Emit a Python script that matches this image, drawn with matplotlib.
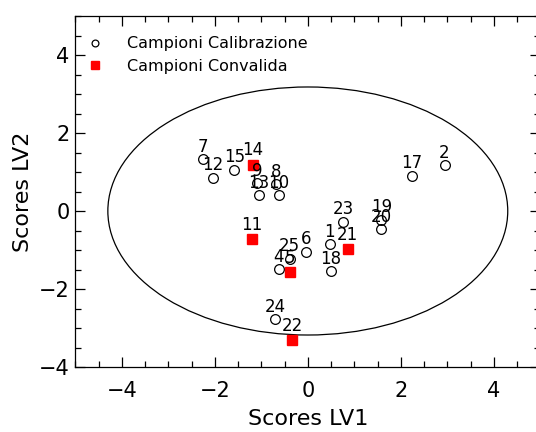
import matplotlib
matplotlib.use("Agg")
import matplotlib.pyplot as plt
from matplotlib.patches import Ellipse
from matplotlib.ticker import MultipleLocator

# scores of calibration samples (LV1, LV2)
cal_ids = [1, 2, 4, 6, 7, 8, 9, 10, 12, 13, 15, 17, 18, 19, 20, 23, 24, 25]
cal_lv1 = [0.47, 2.94, -0.63, -0.04, -2.26, -0.68, -1.09, -0.63, -2.04, -1.06,
           -1.58, 2.24, 0.50, 1.58, 1.58, 0.76, -0.70, -0.39]
cal_lv2 = [-0.85, 1.18, -1.49, -1.05, 1.33, 0.68, 0.71, 0.40, 0.85, 0.41,
           1.06, 0.91, -1.54, -0.23, -0.47, -0.27, -2.77, -1.23]

# scores of validation samples
val_ids = [5, 11, 14, 21, 22]
val_lv1 = [-0.39, -1.20, -1.18, 0.86, -0.34]
val_lv2 = [-1.57, -0.73, 1.18, -0.98, -3.31]

# confidence ellipse half-axes
ell_a = 4.3
ell_b = 3.18

fig = plt.figure(figsize=(5.36, 4.32), dpi=100)
ax = fig.add_axes([75.3 / 536, 65 / 432, 465 / 536, 351 / 432])

ax.add_patch(Ellipse((0, 0), 2 * ell_a, 2 * ell_b, fill=False, ec='black', lw=0.9))

ax.plot(cal_lv1, cal_lv2, 'o', ms=7, mfc='none', mec='black', mew=0.9,
        ls='none', label='Campioni Calibrazione')
ax.plot(val_lv1, val_lv2, 's', ms=7.5, mfc='red', mec='red', ls='none',
        label='Campioni Convalida')

for i, x, y in zip(cal_ids, cal_lv1, cal_lv2):
    ax.annotate(str(i), (x, y), xytext=(0, 2.5), textcoords='offset points',
                ha='center', va='bottom', fontsize=12)
for i, x, y in zip(val_ids, val_lv1, val_lv2):
    ax.annotate(str(i), (x, y), xytext=(0, 4), textcoords='offset points',
                ha='center', va='bottom', fontsize=12)

ax.set_xlim(-5, 5)
ax.set_ylim(-4, 5)
ax.xaxis.set_major_locator(MultipleLocator(2))
ax.xaxis.set_minor_locator(MultipleLocator(0.5))
ax.yaxis.set_major_locator(MultipleLocator(2))
ax.yaxis.set_minor_locator(MultipleLocator(0.5))
ax.tick_params(which='both', direction='in', top=True, right=True, width=0.9)
ax.tick_params(which='major', length=7.5, labelsize=15)
ax.tick_params(axis='x', which='major', pad=10)
ax.tick_params(axis='y', which='major', pad=4)
ax.tick_params(which='minor', length=4)
for s in ax.spines.values():
    s.set_linewidth(0.9)

ax.set_xlabel('Scores LV1', fontsize=16, labelpad=6)
ax.set_ylabel('Scores LV2', fontsize=16, labelpad=4)

ax.legend(loc='upper left', bbox_to_anchor=(-0.01, 0.983), frameon=False,
          fontsize=11.5, markerscale=0.7, handlelength=1.2, handletextpad=1.4,
          labelspacing=0.45, borderaxespad=0.5)

fig.savefig('out.png', dpi=100)
